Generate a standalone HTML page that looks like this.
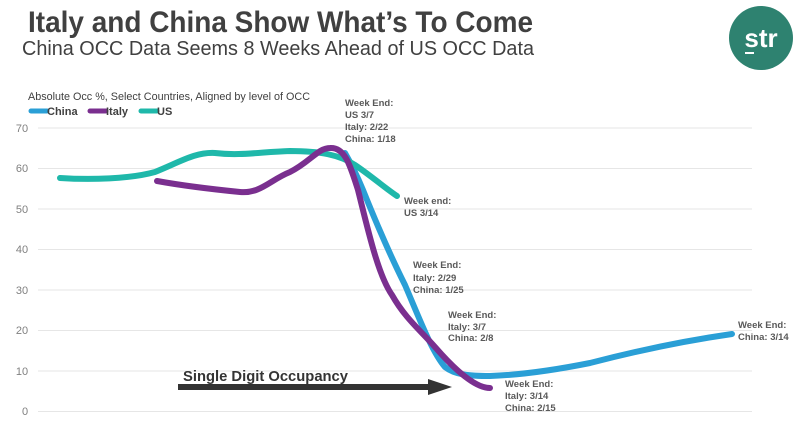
<!DOCTYPE html>
<html><head><meta charset="utf-8"><style>
body{margin:0;background:#fff;width:800px;height:424px;overflow:hidden;font-family:"Liberation Sans",sans-serif}
</style></head><body>
<svg width="800" height="424" viewBox="0 0 800 424" xmlns="http://www.w3.org/2000/svg" font-family="Liberation Sans, sans-serif">
<text x="28" y="32" font-size="30" font-weight="bold" fill="#404040" textLength="505" lengthAdjust="spacingAndGlyphs">Italy and China Show What’s To Come</text>
<text x="22" y="55" font-size="20" fill="#404040" textLength="512" lengthAdjust="spacingAndGlyphs">China OCC Data Seems 8 Weeks Ahead of US OCC Data</text>
<circle cx="761" cy="38" r="32" fill="#2e8270"/>
<text x="761" y="47" font-size="26" fill="#fff" text-anchor="middle" font-weight="bold">str</text>
<rect x="745" y="52" width="9" height="2" fill="#fff"/>
<text x="28" y="100" font-size="11" fill="#404040" textLength="282" lengthAdjust="spacingAndGlyphs">Absolute Occ %, Select Countries, Aligned by level of OCC</text>
<g font-size="11" font-weight="bold" fill="#404040">
<line x1="31" y1="111" x2="47" y2="111" stroke="#2a9fd6" stroke-width="5" stroke-linecap="round"/><text x="47" y="115">China</text>
<line x1="90" y1="111" x2="106" y2="111" stroke="#7a2f8f" stroke-width="5" stroke-linecap="round"/><text x="106" y="115">Italy</text>
<line x1="141" y1="111" x2="157" y2="111" stroke="#1fb8aa" stroke-width="5" stroke-linecap="round"/><text x="157" y="115">US</text>
</g>
<g stroke="#e6e6e6" stroke-width="1">
<line x1="38" y1="128" x2="752" y2="128"/><line x1="38" y1="168.5" x2="752" y2="168.5"/><line x1="38" y1="209" x2="752" y2="209"/><line x1="38" y1="249.5" x2="752" y2="249.5"/><line x1="38" y1="290" x2="752" y2="290"/><line x1="38" y1="330.5" x2="752" y2="330.5"/><line x1="38" y1="371" x2="752" y2="371"/><line x1="38" y1="411.5" x2="752" y2="411.5"/>
</g>
<g font-size="11" fill="#808080" text-anchor="middle">
<text x="22" y="132">70</text><text x="22" y="172">60</text><text x="22" y="213">50</text><text x="22" y="253">40</text><text x="22" y="294">30</text><text x="22" y="334">20</text><text x="22" y="375">10</text><text x="25" y="415">0</text>
</g>
<g fill="none" stroke-width="6" stroke-linecap="round" stroke-linejoin="round">
<path d="M345,153 C352,165 358,178 363,190 C375,220 390,255 405,285 C420,320 432,352 445,367 C455,375 470,376 490,376 C520,375 550,371 590,363 C640,350 690,340 732,334" stroke="#2a9fd6"/>
<path d="M60,178 C90,180 130,179 155,172 C180,162 195,152 215,153 C240,156 260,152 290,151 C320,151 340,155 355,165 C370,175 385,188 397,196" stroke="#1fb8aa"/>
<path d="M157,181 C190,187 220,190 240,192 C260,194 270,180 290,172 C310,162 318,148 330,148 C345,147 350,165 358,190 C368,230 378,275 392,295 C405,318 420,330 435,347 C455,370 475,388 490,388" stroke="#7a2f8f"/>
</g>
<line x1="178" y1="387" x2="430" y2="387" stroke="#333" stroke-width="6"/>
<polygon points="428,379 452,387 428,395" fill="#333"/>
<text x="183" y="381" font-size="15" font-weight="bold" fill="#333" textLength="165" lengthAdjust="spacingAndGlyphs">Single Digit Occupancy</text>
<g font-size="9.5" font-weight="bold" fill="#595959">
<text x="345" y="106">Week End:</text><text x="345" y="118">US 3/7</text><text x="345" y="130">Italy: 2/22</text><text x="345" y="142">China: 1/18</text>
<text x="404" y="204">Week end:</text><text x="404" y="216">US 3/14</text>
<text x="413" y="268">Week End:</text><text x="413" y="281">Italy: 2/29</text><text x="413" y="293">China: 1/25</text>
<text x="448" y="318">Week End:</text><text x="448" y="330">Italy: 3/7</text><text x="448" y="341">China: 2/8</text>
<text x="505" y="387">Week End:</text><text x="505" y="399">Italy: 3/14</text><text x="505" y="411">China: 2/15</text>
<text x="738" y="328">Week End:</text><text x="738" y="340">China: 3/14</text>
</g>
</svg>
</body></html>
